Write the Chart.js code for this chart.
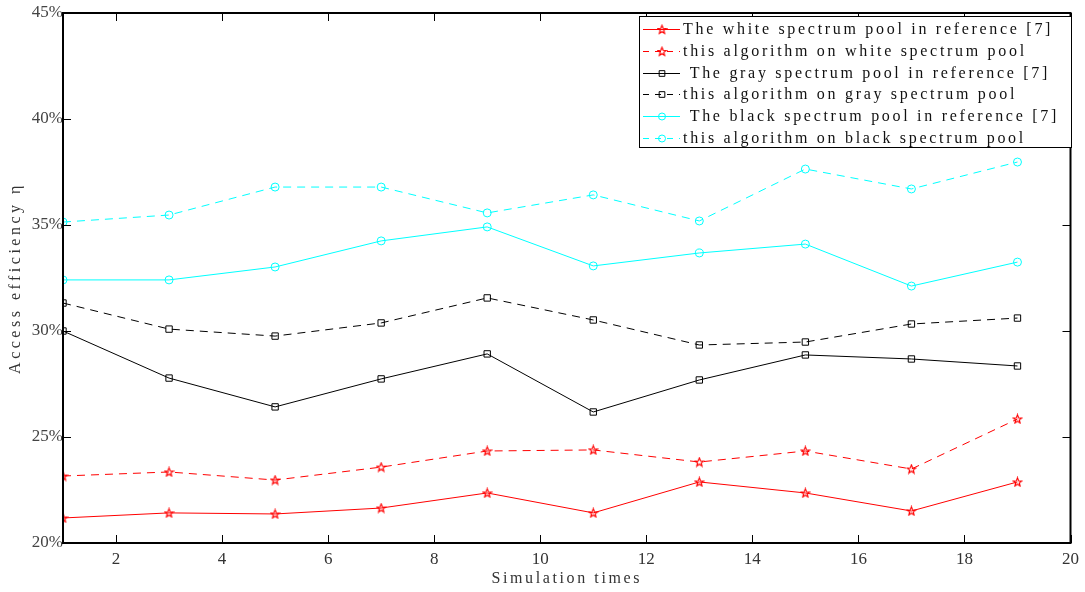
<!DOCTYPE html>
<html>
<head>
<meta charset="utf-8">
<script src="https://cdn.jsdelivr.net/npm/chart.js@4/dist/chart.umd.min.js"></script>
<style>
  html, body { margin: 0; padding: 0; background: #fff; }
  #wrap { width: 1085px; height: 592px; }
</style>
</head>
<body>
<div id="wrap"><canvas id="chart1" width="1085" height="592"></canvas></div>
<script>
// Chart Data
const runs = [1, 3, 5, 7, 9, 11, 13, 15, 17, 19];
const xTicks = [2, 4, 6, 8, 10, 12, 14, 16, 18, 20];
const yTicks = [20, 25, 30, 35, 40, 45];

const whiteRef = [21.18, 21.42, 21.37, 21.65, 22.36, 21.42, 22.88, 22.36, 21.51, 22.88];
const whiteAlg = [23.16, 23.35, 22.97, 23.58, 24.34, 24.39, 23.82, 24.34, 23.49, 25.85];
const grayRef = [30.0, 27.78, 26.42, 27.74, 28.92, 26.18, 27.69, 28.87, 28.68, 28.35];
const grayAlg = [31.32, 30.09, 29.76, 30.38, 31.56, 30.52, 29.34, 29.48, 30.33, 30.61];
const blackRef = [32.41, 32.41, 33.02, 34.25, 34.91, 33.07, 33.68, 34.10, 32.12, 33.25];
const blackAlg = [35.14, 35.47, 36.79, 36.79, 35.57, 36.42, 35.19, 37.64, 36.70, 37.97];

const FONT = '"Liberation Serif", "DejaVu Serif", serif';

// hollow five point star marker
function makeStar(color) {
    const c = document.createElement('canvas');
    c.width = 11; c.height = 11;
    const g = c.getContext('2d');
    g.strokeStyle = color;
    g.lineWidth = 1.2;
    g.beginPath();
    for (let i = 0; i < 10; i++) {
        const r = i % 2 === 0 ? 4.4 : 1.9;
        const a = -Math.PI / 2 + i * Math.PI / 5;
        const px = 5.5 + r * Math.cos(a), py = 5.8 + r * Math.sin(a);
        if (i === 0) g.moveTo(px, py); else g.lineTo(px, py);
    }
    g.closePath();
    g.stroke();
    return c;
}
const redStar = makeStar('#ff0000');

function series(label, values, color, dashed, style, radius) {
    return {
        label: label,
        data: runs.map((x, i) => ({ x: x, y: values[i] })),
        borderColor: color,
        backgroundColor: 'rgba(0,0,0,0)',
        borderWidth: 1,
        borderDash: dashed ? [8, 6] : [],
        pointStyle: style,
        pointRadius: radius,
        pointBorderWidth: 1,
        pointBorderColor: color,
        pointBackgroundColor: 'rgba(0,0,0,0)',
        tension: 0,
    };
}

const datasets = [
    series('The white spectrum pool in reference [7]', whiteRef, '#ff0000', false, redStar, 5),
    series('this algorithm on white spectrum pool', whiteAlg, '#ff0000', true, redStar, 5),
    series(' The gray spectrum pool in reference [7]', grayRef, '#000000', false, 'rect', 4.5),
    series('this algorithm on gray spectrum pool', grayAlg, '#000000', true, 'rect', 4.5),
    series(' The black spectrum pool in reference [7]', blackRef, '#00ffff', false, 'circle', 4),
    series('this algorithm on black spectrum pool', blackAlg, '#00ffff', true, 'circle', 4),
];

// spaced-out axis titles
const spacingPlugin = {
    id: 'spacing',
    beforeDraw(chart) {
        ['x', 'y'].forEach(id => {
            const s = chart.scales[id];
            if (s && !s._spaced) {
                const orig = s.drawTitle.bind(s);
                s.drawTitle = function () {
                    this.ctx.save();
                    this.ctx.letterSpacing = id === 'y' ? '3.5px' : '2.6px';
                    orig();
                    this.ctx.restore();
                };
                s._spaced = true;
            }
        });
    }
};

// frame, inward ticks and legend box
const framePlugin = {
    id: 'frame',
    afterDraw(chart) {
        const c = chart.ctx;
        const a = chart.chartArea;
        const xs = chart.scales.x, ys = chart.scales.y;
        c.save();
        c.strokeStyle = '#000';
        c.lineWidth = 1;
        c.beginPath();
        xTicks.forEach(v => {
            const px = Math.round(xs.getPixelForValue(v)) + 0.5;
            c.moveTo(px, a.bottom); c.lineTo(px, a.bottom - 8);
            c.moveTo(px, a.top); c.lineTo(px, a.top + 8);
        });
        yTicks.forEach(v => {
            const py = Math.round(ys.getPixelForValue(v)) + 0.5;
            c.moveTo(a.left, py); c.lineTo(a.left + 8, py);
            c.moveTo(a.right, py); c.lineTo(a.right - 8, py);
        });
        c.stroke();
        c.lineWidth = 2;
        c.strokeRect(a.left, a.top, a.right - a.left, a.bottom - a.top);

        // legend
        const lx = 639, ly = 16, lw = 432, lh = 131;
        c.fillStyle = '#fff';
        c.fillRect(lx, ly, lw, lh);
        c.lineWidth = 1;
        c.strokeStyle = '#000';
        c.strokeRect(lx + 0.5, ly + 0.5, lw, lh);
        c.font = '16px ' + FONT;
        c.textBaseline = 'middle';
        chart.data.datasets.forEach((ds, i) => {
            const y = Math.round(ly + 13 + i * 21.8) + 0.5;
            c.strokeStyle = ds.borderColor;
            c.setLineDash(ds.borderDash.length ? [6, 6] : []);
            c.beginPath();
            c.moveTo(lx + 4, y); c.lineTo(lx + 41, y);
            c.stroke();
            c.setLineDash([]);
            c.fillStyle = 'rgba(0,0,0,0)';
            c.strokeStyle = ds.borderColor;
            c.lineWidth = 1;
            Chart.helpers.drawPoint(c, {
                pointStyle: ds.pointStyle, radius: ds.pointRadius - 0.5,
                rotation: 0, borderWidth: 1
            }, lx + 23, y);
            c.fillStyle = '#111';
            c.letterSpacing = '2.7px';
            c.fillText(ds.label, lx + 44, y);
            c.letterSpacing = '0px';
        });
        c.restore();
    }
};

const ctx = document.getElementById('chart1').getContext('2d');
const chart1 = new Chart(ctx, {
    type: 'line',
    data: { datasets: datasets },
    options: {
        responsive: false,
        animation: false,
        layout: { padding: { top: 13, right: 12, left: 0, bottom: 0 } },
        plugins: {
            legend: { display: false },
            tooltip: { enabled: false },
        },
        scales: {
            x: {
                type: 'linear',
                min: 1,
                max: 20,
                afterBuildTicks: s => { s.ticks = xTicks.map(v => ({ value: v })); },
                afterFit: s => { s.height = 49; },
                grid: { display: false, drawTicks: false },
                border: { display: false },
                ticks: { color: '#333', font: { family: FONT, size: 17 }, padding: 6, maxRotation: 0 },
                title: { display: true, text: 'Simulation times', color: '#333', font: { family: FONT, size: 16 }, padding: { top: 0 } },
            },
            y: {
                min: 20,
                max: 45,
                afterBuildTicks: s => { s.ticks = yTicks.map(v => ({ value: v })); },
                afterFit: s => { s.width = 63; },
                grid: { display: false, drawTicks: false },
                border: { display: false },
                ticks: { color: '#444', font: { family: FONT, size: 17 }, padding: 0, callback: v => v + '%' },
                title: { display: true, text: 'Access efficiency η', color: '#333', font: { family: FONT, size: 16 }, padding: { top: 6, bottom: 2 } },
            },
        },
    },
    plugins: [spacingPlugin, framePlugin],
});
</script>
</body>
</html>
